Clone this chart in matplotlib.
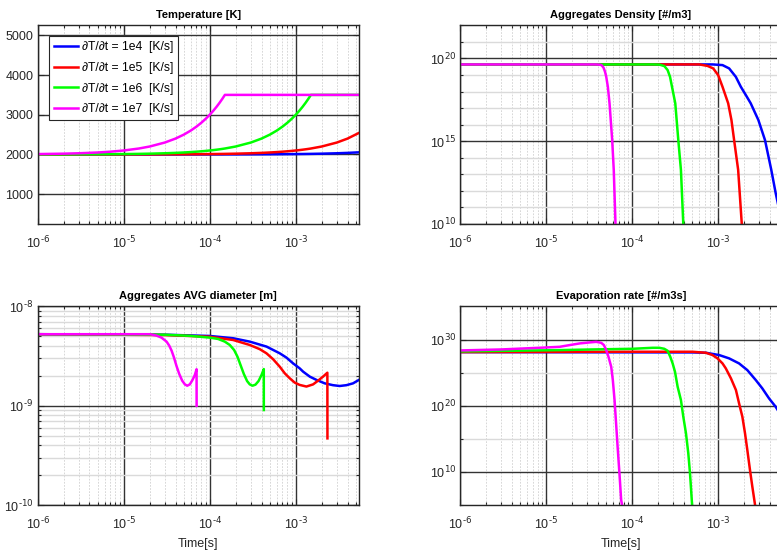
import matplotlib
matplotlib.use("Agg")
import matplotlib.pyplot as plt
from matplotlib import ticker
import numpy as np

plt.rcParams['font.family'] = ['Liberation Sans Narrow', 'Liberation Sans', 'DejaVu Sans']
plt.rcParams['mathtext.fontset'] = 'custom'
plt.rcParams['mathtext.rm'] = 'Liberation Sans Narrow'
plt.rcParams['mathtext.default'] = 'regular'
plt.rcParams['axes.unicode_minus'] = False

# heating rates, one run per rate
rates = ['1e4', '1e5', '1e6', '1e7']
colors = ['#0000ff', '#ff0000', '#00ff00', '#ff00ff']
T_START, T_END = 1e-6, 5.43e-3

# --- temperature [K] ---
t_T = [1e-6, 2e-6, 3e-6, 5e-6, 7e-6, 1e-5, 1.5e-5, 2e-5, 3e-5, 4e-5, 5e-5, 6e-5, 7e-5,
       8e-5, 9e-5, 1e-4, 1.1e-4, 1.2e-4, 1.3e-4, 1.4e-4, 1.5e-4, 2e-4, 3e-4, 4e-4, 5e-4,
       6e-4, 7e-4, 8e-4, 9e-4, 1e-3, 1.1e-3, 1.2e-3, 1.3e-3, 1.4e-3, 1.5e-3, 2e-3, 3e-3,
       4e-3, 5.43e-3]
T_1e4 = [2000, 2000, 2000, 2000, 2000, 2000, 2000, 2000, 2000, 2000, 2001, 2001, 2001,
         2001, 2001, 2001, 2001, 2001, 2001, 2001, 2002, 2002, 2003, 2004, 2005,
         2006, 2007, 2008, 2009, 2010, 2011, 2012, 2013, 2014, 2015, 2020, 2030,
         2040, 2054]
T_1e5 = [2000, 2000, 2000, 2001, 2001, 2001, 2002, 2002, 2003, 2004, 2005, 2006, 2007,
         2008, 2009, 2010, 2011, 2012, 2013, 2014, 2015, 2020, 2030, 2040, 2050,
         2060, 2070, 2080, 2090, 2100, 2110, 2120, 2130, 2140, 2150, 2200, 2300,
         2400, 2543]
T_1e6 = [2001, 2002, 2003, 2005, 2007, 2010, 2015, 2020, 2030, 2040, 2050, 2060, 2070,
         2080, 2090, 2100, 2110, 2120, 2130, 2140, 2150, 2200, 2300, 2400, 2500,
         2600, 2700, 2800, 2900, 3000, 3100, 3200, 3300, 3400, 3500, 3500, 3500,
         3500, 3500]
T_1e7 = [2010, 2020, 2030, 2050, 2070, 2100, 2150, 2200, 2300, 2400, 2500, 2600, 2700,
         2800, 2900, 3000, 3100, 3200, 3300, 3400, 3500, 3500, 3500, 3500, 3500,
         3500, 3500, 3500, 3500, 3500, 3500, 3500, 3500, 3500, 3500, 3500, 3500,
         3500, 3500]

# --- aggregates number density, log10 [#/m3] ---
tN_1e4 = [1e-6, 8.55e-4, 1.117e-3, 1.334e-3, 1.596e-3, 1.824e-3, 2.085e-3, 2.377e-3, 2.917e-3,
          3.483e-3, 4.121e-3, 4.634e-3, 5.43e-3]
logN_1e4 = [19.64, 19.64, 19.60, 19.40, 18.89, 18.29, 17.79, 17.29, 16.28, 15.07, 13.27, 11.87, 10.2]
tN_1e5 = [1e-6, 6.0e-4, 7.48e-4, 8.71e-4, 9.95e-4, 1.117e-3, 1.30e-3, 1.419e-3, 1.524e-3,
          1.698e-3, 1.871e-3]
logN_1e5 = [19.64, 19.64, 19.55, 19.40, 18.99, 18.29, 17.29, 16.28, 15.07, 13.27, 10.0]
tN_1e6 = [1e-6, 1.72e-4, 2.06e-4, 2.355e-4, 2.57e-4, 2.742e-4, 2.89e-4, 3.155e-4, 3.42e-4,
          3.67e-4, 3.91e-4]
logN_1e6 = [19.64, 19.64, 19.63, 19.54, 19.30, 18.89, 18.29, 17.29, 15.08, 13.27, 10.0]
tN_1e7 = [1e-6, 3.73e-5, 4.08e-5, 4.38e-5, 4.62e-5, 4.81e-5, 4.97e-5, 5.19e-5, 5.43e-5,
          5.83e-5, 6.08e-5, 6.37e-5]
logN_1e7 = [19.64, 19.64, 19.63, 19.60, 19.45, 19.20, 18.90, 18.29, 17.29, 15.07, 13.27, 10.0]

# --- aggregates mean diameter [m] ---
tD_1e4 = [1e-6, 3e-5, 1e-4, 1.87e-4, 2.92e-4, 4.57e-4, 6.52e-4, 7.8e-4, 9.31e-4, 1.11e-3,
          1.22e-3, 1.46e-3, 1.74e-3, 2.17e-3, 2.71e-3, 3.24e-3, 3.88e-3, 4.63e-3, 5.43e-3]
D_1e4 = [5.25e-9, 5.19e-9, 5.04e-9, 4.78e-9, 4.42e-9, 3.94e-9, 3.37e-9, 3.05e-9, 2.67e-9,
         2.38e-9, 2.20e-9, 1.96e-9, 1.82e-9, 1.68e-9, 1.61e-9, 1.58e-9, 1.61e-9, 1.68e-9, 1.82e-9]
tD_1e5 = [1e-6, 3e-5, 1e-4, 1.87e-4, 2.92e-4, 3.82e-4, 4.57e-4, 5.45e-4, 6.52e-4, 7.45e-4,
          8.51e-4, 9.72e-4, 1.11e-3, 1.33e-3, 1.59e-3, 1.82e-3, 2.07e-3, 2.33e-3, 2.335e-3]
D_1e5 = [5.25e-9, 5.15e-9, 4.95e-9, 4.59e-9, 4.09e-9, 3.71e-9, 3.37e-9, 2.94e-9, 2.47e-9,
         2.12e-9, 1.89e-9, 1.71e-9, 1.62e-9, 1.56e-9, 1.64e-9, 1.79e-9, 1.96e-9, 2.15e-9, 4.69e-10]
tD_1e6 = [1e-6, 3e-5, 6e-5, 1.0e-4, 1.253e-4, 1.496e-4, 1.71e-4, 1.92e-4, 2.10e-4, 2.28e-4,
          2.49e-4, 2.72e-4, 2.92e-4, 3.14e-4, 3.40e-4, 3.69e-4, 4.0e-4, 4.25e-4, 4.255e-4]
D_1e6 = [5.25e-9, 5.19e-9, 5.05e-9, 4.85e-9, 4.70e-9, 4.42e-9, 4.09e-9, 3.64e-9, 3.12e-9,
         2.57e-9, 2.09e-9, 1.77e-9, 1.64e-9, 1.59e-9, 1.63e-9, 1.77e-9, 2.04e-9, 2.34e-9, 9.05e-10]
tD_1e7 = [1e-6, 1e-5, 2.01e-5, 2.41e-5, 2.75e-5, 3.15e-5, 3.38e-5, 3.60e-5, 3.83e-5, 4.11e-5,
          4.42e-5, 4.78e-5, 5.14e-5, 5.47e-5, 5.87e-5, 6.31e-5, 6.71e-5, 7.03e-5, 7.04e-5]
D_1e7 = [5.25e-9, 5.25e-9, 5.25e-9, 5.08e-9, 4.85e-9, 4.42e-9, 4.03e-9, 3.59e-9, 3.08e-9,
         2.51e-9, 2.09e-9, 1.79e-9, 1.64e-9, 1.59e-9, 1.64e-9, 1.82e-9, 2.04e-9, 2.33e-9, 1.0e-9]

# --- evaporation rate, log10 [#/m3s] ---
tE_1e4 = [1e-6, 5.01e-4, 7.16e-4, 1.023e-3, 1.334e-3, 1.74e-3, 2.17e-3, 2.72e-3, 3.24e-3,
          3.88e-3, 4.63e-3, 5.43e-3]
logE_1e4 = [28.1, 28.05, 28.0, 27.65, 27.15, 26.39, 25.38, 23.88, 22.62, 21.11, 19.85, 18.4]
tE_1e5 = [1e-6, 8.47e-5, 5.01e-4, 7.16e-4, 8.55e-4, 9.77e-4, 1.117e-3, 1.22e-3, 1.40e-3, 1.60e-3,
          1.74e-3, 1.90e-3, 2.04e-3, 2.17e-3, 2.33e-3, 2.48e-3, 2.67e-3]
logE_1e5 = [28.1, 28.15, 28.15, 28.0, 27.65, 27.15, 26.39, 25.64, 24.13, 22.37,
            20.36, 18.35, 15.84, 13.32, 10.3, 7.8, 5.0]
tE_1e6 = [1e-6, 1.43e-5, 3.47e-5, 1.01e-4, 1.72e-4, 2.06e-4, 2.35e-4, 2.57e-4, 2.76e-4, 2.94e-4,
          3.13e-4, 3.36e-4, 3.67e-4, 3.91e-4, 4.20e-4, 4.47e-4, 4.68e-4, 4.95e-4]
logE_1e6 = [28.2, 28.4, 28.5, 28.6, 28.75, 28.75, 28.6, 28.3, 27.39, 26.39,
            25.13, 22.87, 20.86, 18.35, 15.84, 12.82, 9.8, 5.0]
tE_1e7 = [1e-6, 3e-6, 1e-5, 1.43e-5, 1.87e-5, 2.44e-5, 3.18e-5, 3.80e-5, 4.35e-5, 4.67e-5,
          4.97e-5, 5.28e-5, 5.68e-5, 5.93e-5, 6.21e-5, 6.49e-5, 6.78e-5, 7.10e-5, 7.41e-5, 7.6e-5]
logE_1e7 = [28.35, 28.5, 28.8, 28.9, 29.16, 29.41, 29.56, 29.65, 29.5, 29.16,
            28.4, 27.39, 25.88, 23.88, 20.86, 17.09, 13.3, 9.55, 5.78, 5.0]

INK = '#262626'
LW = 1.8


def pow10(v, pos):
    # "10^-6" with a plain hyphen in the exponent
    e = int(round(np.log10(v)))
    return r'$\mathdefault{10^{\text{%d}}}$' % e


def style(ax, title):
    ax.set_xscale('log')
    ax.set_xlim(T_START, T_END)
    ax.xaxis.set_major_locator(ticker.LogLocator(base=10, numticks=10))
    ax.xaxis.set_major_formatter(ticker.FuncFormatter(pow10))
    ax.xaxis.set_minor_locator(ticker.LogLocator(base=10, subs=np.arange(2, 10), numticks=20))
    ax.xaxis.set_minor_formatter(ticker.NullFormatter())
    ax.set_title(title, fontsize=8, fontweight='bold', pad=5)
    ax.tick_params(which='both', direction='in', top=True, right=True, color=INK,
                   labelcolor=INK, labelsize=9, width=0.8)
    ax.tick_params(which='major', length=4)
    ax.tick_params(which='minor', length=2)
    ax.tick_params(axis='x', pad=8)
    ax.tick_params(axis='y', pad=3)
    ax.xaxis.grid(True, which='major', color='#333333', lw=1.0)
    ax.yaxis.grid(True, which='major', color='#333333', lw=1.0)
    ax.xaxis.grid(True, which='minor', color='#c8c8c8', lw=0.5, ls=(0, (2.5, 2)))
    ax.yaxis.grid(True, which='minor', color='#dadada', lw=1.0)
    ax.set_axisbelow(True)
    for s in ax.spines.values():
        s.set_color(INK)
        s.set_linewidth(1.0)


def log_y(ax, lo, hi, major, minor):
    ax.set_yscale('log')
    ax.set_ylim(lo, hi)
    ax.yaxis.set_major_locator(ticker.FixedLocator(major))
    ax.yaxis.set_major_formatter(ticker.FuncFormatter(pow10))
    ax.yaxis.set_minor_locator(minor)
    ax.yaxis.set_minor_formatter(ticker.NullFormatter())


fig = plt.figure(figsize=(7.77, 5.54), dpi=100)
W, H = 0.4135, 0.3585
ax_T = fig.add_axes([0.0485, 0.5957, W, H])
ax_N = fig.add_axes([0.5924, 0.5957, W, H])
ax_D = fig.add_axes([0.0485, 0.0884, W, H])
ax_E = fig.add_axes([0.5924, 0.0884, W, H])

# temperature
for T, c, r in zip([T_1e4, T_1e5, T_1e6, T_1e7], colors, rates):
    ax_T.plot(t_T, T, color=c, lw=LW, label='\u2202T/\u2202t = ' + r + '  [K/s]')
style(ax_T, 'Temperature [K]')
ax_T.set_ylim(250, 5250)
ax_T.yaxis.set_major_locator(ticker.FixedLocator([1000, 2000, 3000, 4000, 5000]))
leg = ax_T.legend(loc='upper left', bbox_to_anchor=(0.036, 0.945), borderaxespad=0,
                  fontsize=8.7, frameon=True, fancybox=False, framealpha=1,
                  edgecolor=INK, handlelength=2.0, handletextpad=0.3,
                  labelspacing=0.72, borderpad=0.4)
leg.get_frame().set_linewidth(0.8)

# number density
for t, v, c in zip([tN_1e4, tN_1e5, tN_1e6, tN_1e7], [logN_1e4, logN_1e5, logN_1e6, logN_1e7], colors):
    ax_N.plot(t, 10.0 ** np.array(v), color=c, lw=LW)
style(ax_N, 'Aggregates Density [#/m3]')
log_y(ax_N, 1e10, 1e22, [1e10, 1e15, 1e20],
      ticker.FixedLocator([10.0 ** k for k in range(10, 23) if k % 5]))

# mean diameter
for t, v, c in zip([tD_1e4, tD_1e5, tD_1e6, tD_1e7], [D_1e4, D_1e5, D_1e6, D_1e7], colors):
    ax_D.plot(t, v, color=c, lw=LW)
style(ax_D, 'Aggregates AVG diameter [m]')
log_y(ax_D, 1e-10, 1e-8, [1e-10, 1e-9, 1e-8],
      ticker.LogLocator(base=10, subs=np.arange(2, 10), numticks=10))
ax_D.set_xlabel('Time[s]', fontsize=9, color=INK, labelpad=4)

# evaporation rate
for t, v, c in zip([tE_1e4, tE_1e5, tE_1e6, tE_1e7], [logE_1e4, logE_1e5, logE_1e6, logE_1e7], colors):
    ax_E.plot(t, 10.0 ** np.array(v), color=c, lw=LW)
style(ax_E, 'Evaporation rate [#/m3s]')
log_y(ax_E, 1e5, 1e35, [1e10, 1e20, 1e30], ticker.FixedLocator([1e5, 1e15, 1e25, 1e35]))
ax_E.set_xlabel('Time[s]', fontsize=9, color=INK, labelpad=4)

fig.savefig('out.png', dpi=100)
